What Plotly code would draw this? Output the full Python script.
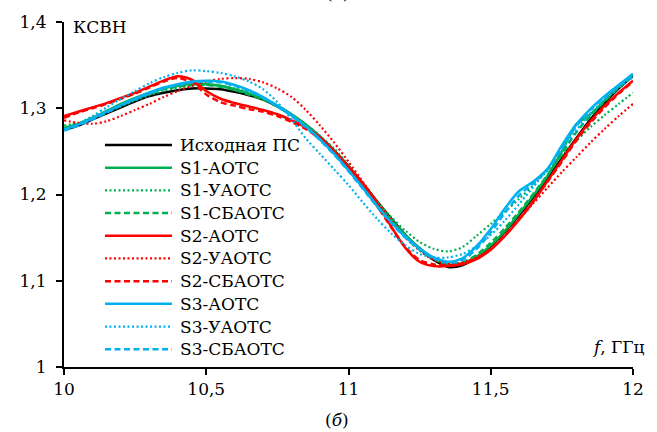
import plotly.graph_objects as go

# Frequency grid, GHz
freq = [10.00, 10.05, 10.10, 10.15, 10.20, 10.25, 10.30, 10.35, 10.40, 10.45,
        10.50, 10.55, 10.60, 10.65, 10.70, 10.75, 10.80, 10.85, 10.90, 10.95,
        11.00, 11.05, 11.10, 11.15, 11.20, 11.25, 11.30, 11.35, 11.40, 11.45,
        11.50, 11.55, 11.60, 11.65, 11.70, 11.75, 11.80, 11.85, 11.90, 11.95,
        12.00]

# VSWR curves
vswr_base = [1.275, 1.280, 1.287, 1.294, 1.301, 1.308, 1.314, 1.318, 1.321, 1.323,
             1.323, 1.322, 1.319, 1.315, 1.310, 1.302, 1.292, 1.281, 1.267, 1.251,
             1.233, 1.213, 1.192, 1.172, 1.153, 1.137, 1.124, 1.116, 1.118, 1.127,
             1.140, 1.157, 1.176, 1.197, 1.219, 1.242, 1.265, 1.287, 1.306, 1.323,
             1.338]
vswr_s1_a = [1.277, 1.282, 1.289, 1.297, 1.305, 1.312, 1.318, 1.323, 1.326, 1.328,
             1.328, 1.326, 1.322, 1.317, 1.311, 1.303, 1.293, 1.281, 1.267, 1.250,
             1.232, 1.212, 1.191, 1.171, 1.153, 1.138, 1.126, 1.119, 1.120, 1.128,
             1.141, 1.158, 1.178, 1.199, 1.222, 1.250, 1.281, 1.293, 1.309, 1.325,
             1.339]
vswr_s1_u = [1.280, 1.283, 1.288, 1.295, 1.302, 1.309, 1.315, 1.320, 1.324, 1.326,
             1.327, 1.326, 1.323, 1.318, 1.311, 1.303, 1.293, 1.281, 1.268, 1.253,
             1.234, 1.212, 1.192, 1.174, 1.158, 1.145, 1.137, 1.134, 1.139, 1.152,
             1.166, 1.180, 1.195, 1.211, 1.228, 1.245, 1.262, 1.278, 1.292, 1.305,
             1.318]
vswr_s1_sb = [1.276, 1.281, 1.288, 1.296, 1.304, 1.311, 1.317, 1.322, 1.325, 1.327,
              1.327, 1.325, 1.321, 1.316, 1.310, 1.302, 1.292, 1.280, 1.266, 1.249,
              1.231, 1.211, 1.190, 1.170, 1.152, 1.137, 1.125, 1.119, 1.121, 1.130,
              1.144, 1.161, 1.180, 1.201, 1.223, 1.247, 1.272, 1.291, 1.308, 1.324,
              1.338]
vswr_s2_a = [1.291, 1.296, 1.301, 1.306, 1.312, 1.318, 1.325, 1.332, 1.337, 1.333,
             1.320, 1.311, 1.306, 1.302, 1.298, 1.293, 1.286, 1.278, 1.266, 1.250,
             1.232, 1.213, 1.190, 1.163, 1.138, 1.122, 1.117, 1.117, 1.119, 1.125,
             1.136, 1.152, 1.171, 1.192, 1.216, 1.240, 1.264, 1.285, 1.303, 1.318,
             1.332]
vswr_s2_u = [1.286, 1.283, 1.282, 1.285, 1.291, 1.298, 1.305, 1.313, 1.320, 1.326,
             1.331, 1.334, 1.335, 1.334, 1.330, 1.323, 1.313, 1.298, 1.280, 1.260,
             1.238, 1.215, 1.192, 1.170, 1.150, 1.135, 1.124, 1.120, 1.121, 1.127,
             1.137, 1.152, 1.171, 1.190, 1.208, 1.226, 1.243, 1.260, 1.276, 1.291,
             1.305]
vswr_s2_sb = [1.289, 1.295, 1.300, 1.305, 1.311, 1.317, 1.324, 1.331, 1.335, 1.330,
              1.316, 1.307, 1.303, 1.299, 1.296, 1.291, 1.284, 1.276, 1.264, 1.248,
              1.229, 1.209, 1.187, 1.162, 1.139, 1.124, 1.119, 1.118, 1.120, 1.126,
              1.137, 1.153, 1.172, 1.193, 1.215, 1.238, 1.262, 1.283, 1.301, 1.317,
              1.331]
vswr_s3_a = [1.275, 1.281, 1.288, 1.296, 1.304, 1.311, 1.318, 1.324, 1.328, 1.331,
             1.332, 1.331, 1.327, 1.321, 1.313, 1.303, 1.292, 1.279, 1.264, 1.247,
             1.228, 1.208, 1.187, 1.168, 1.151, 1.137, 1.127, 1.122, 1.126, 1.140,
             1.160, 1.184, 1.204, 1.215, 1.230, 1.257, 1.281, 1.299, 1.314, 1.327,
             1.340]
vswr_s3_u = [1.275, 1.282, 1.291, 1.301, 1.311, 1.320, 1.329, 1.336, 1.341, 1.344,
             1.343, 1.341, 1.337, 1.331, 1.322, 1.307, 1.287, 1.265, 1.247, 1.229,
             1.211, 1.191, 1.172, 1.155, 1.141, 1.131, 1.127, 1.127, 1.131, 1.140,
             1.153, 1.170, 1.189, 1.209, 1.230, 1.252, 1.274, 1.294, 1.310, 1.324,
             1.336]
vswr_s3_sb = [1.274, 1.280, 1.287, 1.295, 1.303, 1.310, 1.317, 1.323, 1.327, 1.330,
              1.331, 1.330, 1.326, 1.320, 1.312, 1.302, 1.291, 1.278, 1.263, 1.246,
              1.227, 1.207, 1.186, 1.167, 1.150, 1.136, 1.126, 1.121, 1.124, 1.137,
              1.156, 1.179, 1.199, 1.213, 1.229, 1.254, 1.279, 1.298, 1.313, 1.326,
              1.339]

series_names = ["Исходная ПС", "S1-АОТС", "S1-УАОТС", "S1-СБАОТС",
                "S2-АОТС", "S2-УАОТС", "S2-СБАОТС",
                "S3-АОТС", "S3-УАОТС", "S3-СБАОТС"]
series_values = [vswr_base, vswr_s1_a, vswr_s1_u, vswr_s1_sb,
                 vswr_s2_a, vswr_s2_u, vswr_s2_sb,
                 vswr_s3_a, vswr_s3_u, vswr_s3_sb]
series_colors = ["#000000", "#00B050", "#00B050", "#00B050",
                 "#FF0000", "#FF0000", "#FF0000",
                 "#00B0F0", "#00B0F0", "#00B0F0"]
series_style = ["solid", "solid", "dot", "dash",
                "solid", "dot", "dash",
                "solid", "dot", "dash"]

# line patterns
DASH = {"solid": "solid", "dot": "2px,2.5px", "dash": "6px,3.5px"}
WIDTH = {"solid": 2.5, "dot": 2.2, "dash": 2.5}

x_ticks = [10, 10.5, 11, 11.5, 12]
y_ticks = [1, 1.1, 1.2, 1.3, 1.4]

FONT = "DejaVu Serif"
FS = 17

W, H = 657, 432
ML, MR, MT, MB = 64, 24, 19, 65
PW, PH = W - ML - MR, H - MT - MB


def px_to_paper(px, py):
    return (px - ML) / PW, (H - MB - py) / PH


fig = go.Figure()
for name, vals, col, st in zip(series_names, series_values, series_colors, series_style):
    fig.add_trace(go.Scatter(
        x=freq, y=vals, name=name, mode="lines", showlegend=False,
        line=dict(color=col, dash=DASH[st], width=WIDTH[st],
                  shape="spline", smoothing=0.8),
    ))

# Compact legend block (sample line + label per series)
shapes, annotations = [], []
row0, row_step = 143, 22.9
for i, (name, col, st) in enumerate(zip(series_names, series_colors, series_style)):
    py = row0 + i * row_step
    x0, yy = px_to_paper(105, py)
    x1, _ = px_to_paper(172, py)
    xt, _ = px_to_paper(178, py)
    shapes.append(dict(type="line", xref="paper", yref="paper",
                       x0=x0, x1=x1, y0=yy, y1=yy,
                       line=dict(color=col, dash=DASH[st], width=WIDTH[st])))
    annotations.append(dict(text=name, xref="paper", yref="paper", x=xt, y=yy,
                            xanchor="left", yanchor="middle", showarrow=False,
                            font=dict(family=FONT, size=FS, color="black")))

ax, ay = px_to_paper(71, 24)
annotations.append(dict(text="КСВН", xref="paper", yref="paper", x=ax, y=ay,
                        xanchor="left", yanchor="middle", showarrow=False,
                        font=dict(family=FONT, size=FS)))
fx, fy = px_to_paper(647, 347)
annotations.append(dict(text="<i>f</i>, ГГц", xref="paper", yref="paper", x=fx, y=fy,
                        xanchor="right", yanchor="middle", showarrow=False,
                        font=dict(family=FONT, size=FS)))
bx, by = px_to_paper(337, 420)
annotations.append(dict(text="(<i>б</i>)", xref="paper", yref="paper", x=bx, y=by,
                        xanchor="center", yanchor="middle", showarrow=False,
                        font=dict(family=FONT, size=FS)))
tx, ty = px_to_paper(337, 2)
annotations.append(dict(text="(<i>а</i>)", xref="paper", yref="paper", x=tx, y=ty,
                        xanchor="center", yanchor="bottom", showarrow=False,
                        font=dict(family=FONT, size=FS)))

fig.update_layout(
    width=W, height=H,
    margin=dict(l=ML, r=MR, t=MT, b=MB),
    plot_bgcolor="white", paper_bgcolor="white",
    separators=", ",
    font=dict(family=FONT, size=FS, color="black"),
    showlegend=False,
    xaxis=dict(
        range=[10, 12], tickvals=x_ticks, showgrid=False, zeroline=False,
        showline=True, linecolor="black", linewidth=2,
        ticks="outside", ticklen=6, tickwidth=2, tickcolor="black",
        tickfont=dict(family=FONT, size=FS),
    ),
    yaxis=dict(
        range=[1, 1.4], tickvals=y_ticks, showgrid=False, zeroline=False,
        showline=True, linecolor="black", linewidth=2,
        ticks="outside", ticklen=6, tickwidth=2, tickcolor="black",
        tickfont=dict(family=FONT, size=FS), ticklabelstandoff=6,
    ),
    shapes=shapes,
    annotations=annotations,
)

fig.write_html("out.html")
